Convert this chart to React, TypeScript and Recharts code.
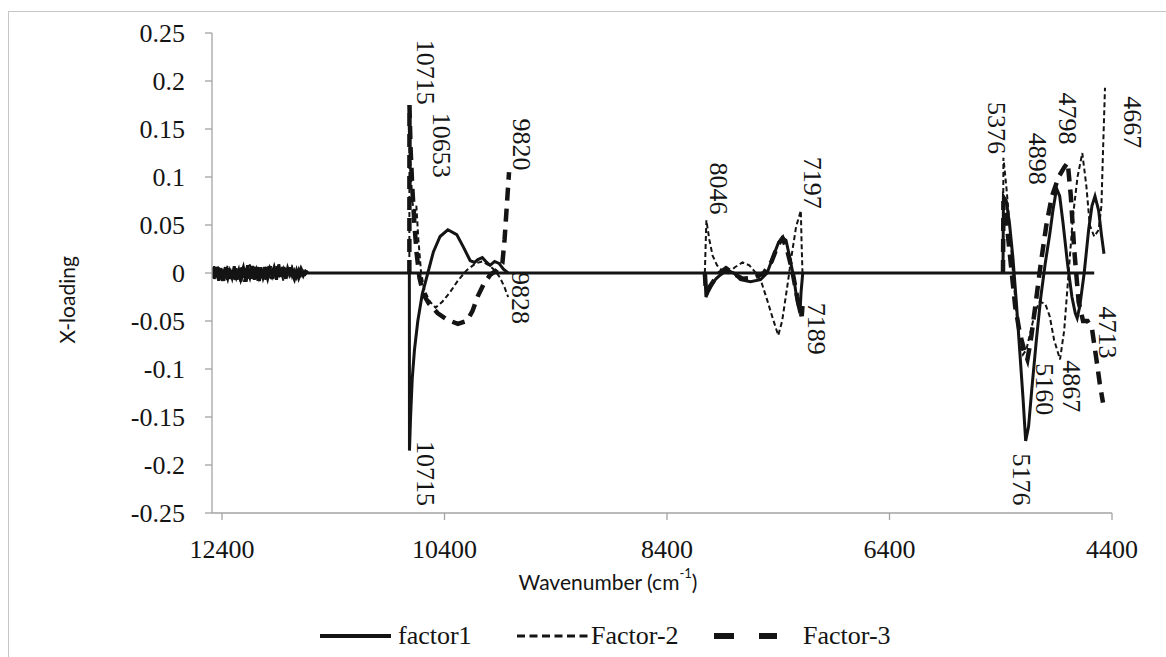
import React from 'react';
import { LineChart, Line, XAxis, YAxis, ReferenceLine, ReferenceDot, Legend } from 'recharts';

type Pt = [number, number];

const SERIF = '"Liberation Serif", "Times New Roman", serif';
const SANS = 'Lato, "Noto Sans", sans-serif';
const INK = '#141414';
const AXIS = '#a3a3a3';

const SERIES_NAMES = ['factor1', 'Factor-2', 'Factor-3'];
const X_TICKS = [12400, 10400, 8400, 6400, 4400];
const Y_TICKS = [0.25, 0.2, 0.15, 0.1, 0.05, 0, -0.05, -0.1, -0.15, -0.2, -0.25];

// 12490–11620 cm-1: noisy baseline region
const noiseW = [12490, 12470, 12450, 12430, 12410, 12390, 12370, 12350, 12330, 12310, 12290, 12270, 12250, 12230, 12210, 12190, 12170, 12150, 12130, 12110, 12090, 12070, 12050, 12030, 12010, 11990, 11970, 11950, 11930, 11910, 11890, 11870, 11850, 11830, 11810, 11790, 11770, 11750, 11730, 11710, 11690, 11670, 11650, 11630];
const f1Noise = [0.004, -0.006, 0.003, -0.008, 0.005, -0.003, 0.006, -0.007, 0.002, -0.005, 0.007, -0.004, 0.003, -0.009, 0.006, -0.002, 0.008, -0.006, 0.004, -0.007, 0.003, -0.004, 0.006, -0.005, 0.002, -0.006, 0.004, -0.003, 0.005, -0.007, 0.009, -0.004, 0.003, -0.006, 0.005, -0.002, 0.004, -0.005, 0.003, -0.004, 0.002, -0.003, 0.002, 0];
const f2Noise = [-0.005, 0.007, -0.004, 0.006, -0.007, 0.004, -0.005, 0.008, -0.006, 0.003, -0.008, 0.005, -0.004, 0.007, -0.005, 0.006, -0.003, 0.009, -0.006, 0.004, -0.008, 0.006, -0.004, 0.005, -0.007, 0.003, -0.005, 0.006, -0.003, 0.007, -0.006, 0.004, -0.008, 0.005, -0.003, 0.006, -0.004, 0.003, -0.005, 0.004, -0.003, 0.002, -0.002, 0];
const f3Noise = [0.006, -0.003, 0.008, -0.005, 0.002, -0.008, 0.004, -0.003, 0.007, -0.006, 0.002, -0.007, 0.006, -0.004, 0.003, -0.009, 0.005, -0.002, 0.007, -0.004, 0.006, -0.008, 0.003, -0.005, 0.006, -0.004, 0.007, -0.006, 0.003, -0.005, 0.004, -0.007, 0.006, -0.003, 0.005, -0.006, 0.002, -0.004, 0.005, -0.003, 0.003, -0.002, 0.001, 0];

// 10715–9820 cm-1
const f1Band2: Pt[] = [[10716, 0], [10715, -0.185], [10705, -0.15], [10690, -0.11], [10670, -0.08], [10640, -0.05], [10600, -0.022], [10550, 0], [10500, 0.022], [10440, 0.038], [10370, 0.045], [10290, 0.04], [10230, 0.027], [10170, 0.013], [10130, 0.011], [10100, 0.014], [10060, 0.016], [10020, 0.011], [9990, 0.008], [9950, 0.012], [9910, 0.01], [9870, 0.004], [9828, 0]];
const f2Band2: Pt[] = [[10716, 0], [10715, 0.15], [10705, 0.11], [10690, 0.075], [10670, 0.06], [10653, 0.07], [10635, 0.035], [10610, 0], [10580, -0.018], [10530, -0.03], [10480, -0.036], [10420, -0.03], [10350, -0.02], [10280, -0.008], [10200, 0.003], [10120, 0.01], [10060, 0.012], [10000, 0.008], [9950, 0.003], [9900, -0.005], [9860, -0.015], [9828, -0.025]];
const f3Band2: Pt[] = [[10716, 0], [10715, 0.175], [10705, 0.13], [10690, 0.09], [10670, 0.05], [10650, 0.02], [10625, -0.005], [10590, -0.022], [10540, -0.032], [10460, -0.042], [10370, -0.049], [10280, -0.053], [10200, -0.05], [10150, -0.04], [10100, -0.024], [10050, -0.012], [9990, -0.002], [9930, 0.003], [9880, 0.01], [9860, 0.035], [9840, 0.07], [9820, 0.105]];

// 8060–7180 cm-1
const f1Band3: Pt[] = [[8060, 0], [8050, -0.025], [8030, -0.02], [8000, -0.013], [7960, -0.006], [7920, -0.002], [7860, 0.003], [7800, 0], [7740, -0.007], [7650, -0.009], [7560, -0.007], [7500, 0], [7450, 0.016], [7400, 0.031], [7365, 0.037], [7330, 0.034], [7300, 0.018], [7260, -0.005], [7230, -0.03], [7205, -0.042], [7195, -0.02], [7180, 0]];
const f2Band3: Pt[] = [[8060, 0], [8046, 0.055], [8020, 0.035], [7990, 0.018], [7950, 0.008], [7900, 0.002], [7850, 0], [7790, 0.006], [7720, 0.011], [7660, 0.008], [7600, 0], [7550, -0.01], [7500, -0.028], [7450, -0.047], [7400, -0.065], [7365, -0.05], [7320, -0.015], [7280, 0.018], [7240, 0.048], [7197, 0.065], [7190, 0.03], [7182, 0]];
const f3Band3: Pt[] = [[8060, 0], [8050, -0.02], [8020, -0.015], [7980, -0.008], [7930, 0], [7870, 0.005], [7800, -0.001], [7720, -0.006], [7620, -0.005], [7530, 0], [7460, 0.012], [7400, 0.03], [7360, 0.036], [7320, 0.024], [7270, 0], [7230, -0.025], [7189, -0.045], [7178, -0.028]];

// 5376–4460 cm-1
const f1Band4: Pt[] = [[5380, 0], [5376, 0.08], [5350, 0.075], [5320, 0.05], [5290, 0.015], [5260, -0.03], [5230, -0.08], [5200, -0.13], [5176, -0.175], [5150, -0.16], [5120, -0.12], [5080, -0.07], [5040, -0.025], [5000, 0.01], [4960, 0.04], [4930, 0.066], [4898, 0.088], [4870, 0.08], [4840, 0.052], [4800, 0.01], [4760, -0.025], [4730, -0.042], [4713, -0.047], [4690, -0.035], [4650, 0], [4610, 0.045], [4580, 0.07], [4553, 0.08], [4520, 0.065], [4495, 0.04], [4472, 0.02]];
const f2Band4: Pt[] = [[5380, 0], [5376, 0.12], [5350, 0.09], [5320, 0.05], [5290, 0], [5260, -0.04], [5230, -0.07], [5200, -0.085], [5170, -0.08], [5130, -0.06], [5090, -0.04], [5050, -0.03], [5000, -0.032], [4960, -0.045], [4920, -0.07], [4867, -0.09], [4830, -0.06], [4790, 0], [4750, 0.06], [4710, 0.1], [4667, 0.125], [4630, 0.09], [4600, 0.05], [4560, 0.038], [4520, 0.045], [4495, 0.07], [4480, 0.13], [4463, 0.193]];
const f3Band4: Pt[] = [[5380, 0], [5376, 0.075], [5345, 0.05], [5310, 0.01], [5270, -0.035], [5230, -0.062], [5190, -0.08], [5160, -0.09], [5130, -0.07], [5090, -0.035], [5040, 0.01], [4990, 0.05], [4940, 0.08], [4880, 0.1], [4830, 0.11], [4798, 0.115], [4770, 0.08], [4740, 0.025], [4700, -0.03], [4660, -0.05], [4620, -0.05], [4580, -0.058], [4540, -0.09], [4510, -0.115], [4481, -0.135]];

// peak annotations: text and where the rotated text begins (wavenumber, loading)
const PEAK_LABELS: [string, number, number][] = [
  ['10715', 10575, 0.243],
  ['10653', 10431, 0.167],
  ['9820', 9712, 0.161],
  ['9828', 9721, 0.001],
  ['10715', 10575, -0.175],
  ['8046', 7941, 0.115],
  ['7197', 7096, 0.121],
  ['7189', 7052, -0.031],
  ['5376', 5434, 0.178],
  ['4898', 5074, 0.146],
  ['4798', 4804, 0.188],
  ['4667', 4220, 0.184],
  ['4713', 4445, -0.035],
  ['4867', 4768, -0.091],
  ['5160', 5011, -0.094],
  ['5176', 5218, -0.188],
];

// baseline drawn across the excluded ranges
const BASELINE_FROM = 12490;
const BASELINE_TO = 4560;

const zip = (w: number[], v: number[]): Pt[] => w.map((x, i) => [x, v[i]]);

// join spectral bands, breaking the line between them
const joinBands = (...bands: Pt[][]) =>
  bands.flatMap((band, i) => [
    ...(i > 0 ? [{ w: band[0][0] + 1, v: null }] : []),
    ...band.map(([w, v]) => ({ w, v })),
  ]);

const f1Data = joinBands(zip(noiseW, f1Noise), f1Band2, f1Band3, f1Band4);
const f2Data = joinBands(zip(noiseW, f2Noise), f2Band2, f2Band3, f2Band4);
const f3Data = joinBands(zip(noiseW, f3Noise), f3Band2, f3Band3, f3Band4);

const serifText = { fontFamily: SERIF, fontSize: 26, fill: INK };

const XTick = (props: any) => (
  <text x={props.x} y={props.y} dy="0.71em" textAnchor="middle" style={serifText}>
    {props.payload.value}
  </text>
);

const YTick = (props: any) => (
  <text x={props.x} y={props.y} textAnchor="end" dominantBaseline="central" style={serifText}>
    {String(props.payload.value)}
  </text>
);

const PeakLabel = (props: any) => {
  const { viewBox, value } = props;
  const x = viewBox.x + viewBox.width / 2;
  const y = viewBox.y + viewBox.height / 2;
  return (
    <text x={x} y={y} transform={`rotate(90 ${x} ${y})`} dominantBaseline="central" style={serifText}>
      {value}
    </text>
  );
};

const sansText = { fontFamily: SANS, fontSize: 21, fill: INK };

const XTitle = () => (
  <text x={608} y={581} textAnchor="middle" dominantBaseline="central" style={sansText}>
    <tspan>Wavenumber (cm</tspan>
    <tspan dy={-8} fontSize={13}>-1</tspan>
    <tspan dy={8}>)</tspan>
  </text>
);

const YTitle = () => (
  <text x={66} y={300} transform="rotate(-90 66 300)" textAnchor="middle" dominantBaseline="central" style={sansText}>
    X-loading
  </text>
);

// legend samples: solid, fine dash, heavy dash
const LEGEND_LAYOUT = [
  { left: 320, len: 71, width: 4, dash: undefined, textLeft: 398 },
  { left: 517, len: 71, width: 3, dash: '8 4.5', textLeft: 591 },
  { left: 714, len: 63, width: 6, dash: '20 25', textLeft: 803 },
];

const LegendRow = () => (
  <div style={{ position: 'relative', width: 1166, height: 28, fontFamily: SERIF, fontSize: 26, color: INK }}>
    {SERIES_NAMES.map((name, i) => {
      const s = LEGEND_LAYOUT[i];
      return (
        <React.Fragment key={name}>
          <svg style={{ position: 'absolute', left: s.left, top: 0 }} width={s.len} height={28}>
            <line x1={0} y1={14} x2={s.len} y2={14} stroke={INK} strokeWidth={s.width} strokeDasharray={s.dash} />
          </svg>
          <span style={{ position: 'absolute', left: s.textLeft, top: 0, lineHeight: '28px' }}>{name}</span>
        </React.Fragment>
      );
    })}
  </div>
);

export default function App() {
  return (
    <div style={{ position: 'absolute', left: 0, top: 0, width: 1166, height: 657, overflow: 'hidden', background: '#fff' }}>
      <div
        style={{
          position: 'absolute',
          left: 8,
          top: 11,
          width: 1300,
          height: 800,
          border: '1.5px solid #c6c6c6',
          pointerEvents: 'none',
        }}
      />
      <LineChart width={1166} height={657} margin={{ top: 33, right: 54, bottom: 46, left: 0 }}>
        <XAxis
          dataKey="w"
          type="number"
          domain={[4400, 12490]}
          reversed
          allowDataOverflow
          ticks={X_TICKS}
          interval={0}
          height={70}
          tickSize={7}
          tickMargin={20}
          axisLine={{ stroke: AXIS, strokeWidth: 1.3 }}
          tickLine={{ stroke: AXIS, strokeWidth: 1.3 }}
          tick={XTick}
          label={{ content: XTitle }}
        />
        <YAxis
          type="number"
          domain={[-0.25, 0.25]}
          allowDataOverflow
          ticks={Y_TICKS}
          interval={0}
          width={212}
          tickSize={7}
          tickMargin={20}
          axisLine={{ stroke: AXIS, strokeWidth: 1.3 }}
          tickLine={{ stroke: AXIS, strokeWidth: 1.3 }}
          tick={YTick}
          label={{ content: YTitle }}
        />
        <ReferenceLine
          segment={[{ x: BASELINE_FROM, y: 0 }, { x: BASELINE_TO, y: 0 }]}
          stroke={INK}
          strokeWidth={3}
        />
        <Line
          data={f1Data}
          dataKey="v"
          name={SERIES_NAMES[0]}
          type="linear"
          stroke={INK}
          strokeWidth={3}
          dot={false}
          activeDot={false}
          isAnimationActive={false}
        />
        <Line
          data={f2Data}
          dataKey="v"
          name={SERIES_NAMES[1]}
          type="linear"
          stroke={INK}
          strokeWidth={2}
          strokeDasharray="5 3"
          dot={false}
          activeDot={false}
          isAnimationActive={false}
        />
        <Line
          data={f3Data}
          dataKey="v"
          name={SERIES_NAMES[2]}
          type="linear"
          stroke={INK}
          strokeWidth={4.5}
          strokeDasharray="13 8"
          dot={false}
          activeDot={false}
          isAnimationActive={false}
        />
        {PEAK_LABELS.map(([text, w, v], i) => (
          <ReferenceDot
            key={i}
            x={w}
            y={v}
            r={1}
            fill="none"
            stroke="none"
            ifOverflow="visible"
            label={{ value: text, content: PeakLabel }}
          />
        ))}
        <Legend
          verticalAlign="bottom"
          content={LegendRow}
          wrapperStyle={{ position: 'absolute', left: 0, top: 622, bottom: 'auto', width: 1166, height: 28 }}
        />
      </LineChart>
    </div>
  );
}
